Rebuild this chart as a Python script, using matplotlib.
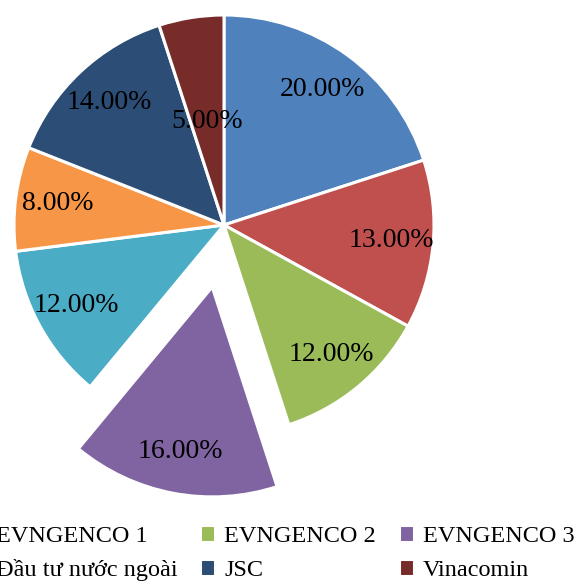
import matplotlib
matplotlib.use("Agg")
import matplotlib.pyplot as plt

labels = ["EVN", "EVNGENCO 1", "EVNGENCO 2", "EVNGENCO 3", "PVN",
          "Đầu tư nước ngoài", "JSC", "Vinacomin"]
values = [20, 13, 12, 16, 12, 8, 14, 5]
colors = ["#4F81BD", "#C0504D", "#9BBB59", "#8064A2", "#4BACC6",
          "#F79646", "#2C4D75", "#772C2A"]
explode = [0, 0, 0, 0.3, 0, 0, 0, 0]

plt.rcParams['font.family'] = ['Liberation Serif', 'DejaVu Serif']

W, H = 584, 581
fig = plt.figure(figsize=(W / 100, H / 100), dpi=100)
ax = fig.add_axes([0, 0, 1, 1])
R = 210.0
cx, cy = 224, 225

wedges, texts, autotexts = ax.pie(
    values, colors=colors, explode=explode, startangle=90, counterclock=False,
    autopct='%.2f%%', pctdistance=0.8,
    wedgeprops=dict(edgecolor='white', linewidth=2.2),
    textprops=dict(fontsize=20, color='black'))

ax.set_aspect('auto')
ax.set_xlim(-cx / R, (W - cx) / R)
ax.set_ylim(-(H - cy) / R, cy / R)
ax.axis('off')

# 5% label sits closer to the centre
x, y = autotexts[7].get_position()
autotexts[7].set_position((x * 0.5 / 0.8, y * 0.5 / 0.8))

order = [0, 4, 1, 5, 2, 6, 3, 7]
fig.legend([wedges[i] for i in order], [labels[i] for i in order],
           ncol=4, loc='upper right', bbox_to_anchor=(587 / W, 1 - 513 / H),
           frameon=False, fontsize=17.5, handlelength=0.62, handleheight=0.7,
           handletextpad=0.37, columnspacing=0.95, labelspacing=0.5,
           borderpad=0)

fig.savefig("out.png", dpi=100)
